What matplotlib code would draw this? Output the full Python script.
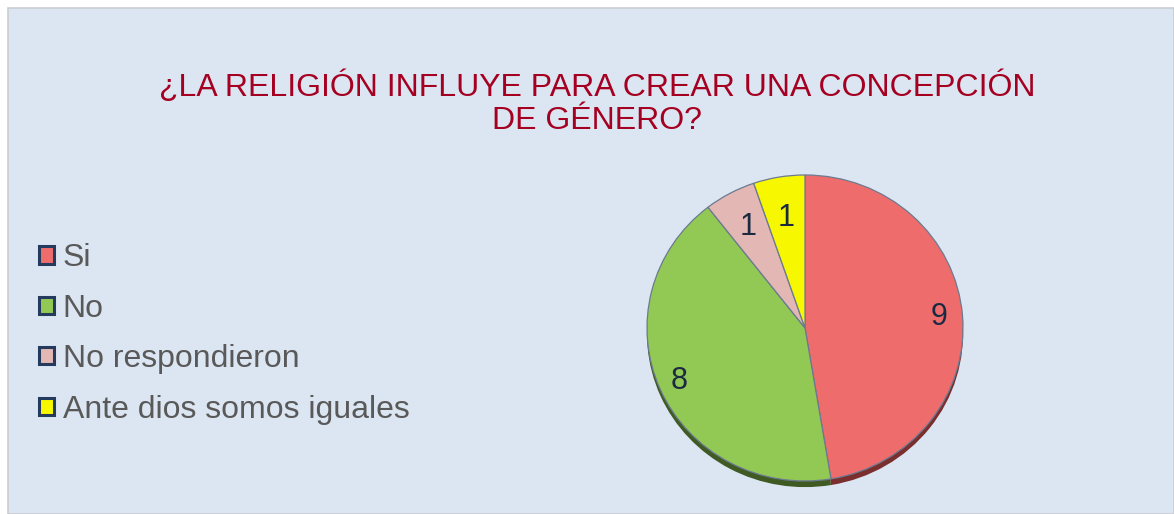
import matplotlib.pyplot as plt
import numpy as np
from matplotlib.patches import Patch, Rectangle

# data
categories = ['Si', 'No', 'No respondieron', 'Ante dios somos iguales']
values = [9, 8, 1, 1]
colors = ['#EE6C6C', '#92C955', '#E2B7B4', '#F7F700']
shadow_colors = ['#7A2E2E', '#3F5A22', '#7A5A58', '#7A7A00']
title = '¿LA RELIGIÓN INFLUYE PARA CREAR UNA CONCEPCIÓN\nDE GÉNERO?'

plt.rcParams['font.family'] = ['Liberation Sans', 'DejaVu Sans']

W, H = 1174, 514
fig = plt.figure(figsize=(W / 100, H / 100), dpi=100, facecolor='white')

# panel background
fig.patches.append(Rectangle((8 / W, 0), 1 - 8 / W, 1 - 8 / H, transform=fig.transFigure,
                             facecolor='#DCE6F2', edgecolor='#C9CDD2', linewidth=1.2, zorder=-1))

fig.text(597 / W, 1 - 103 / H, title, ha='center', va='center', color='#A50021',
         fontsize=23, linespacing=1.12)

# pie axes, centre (805, 328) px, radii ~158 x 153 px (slightly tilted look)
cx, cy, rx, ry = 805, 328, 158, 153
box = 170
ax = fig.add_axes([(cx - box) / W, (H - cy - box) / H, 2 * box / W, 2 * box / H])

# shadow
ax.pie(values, colors=shadow_colors, startangle=90, counterclock=False,
       center=(0, -0.04), radius=1.0, wedgeprops=dict(linewidth=0))
wedges, _ = ax.pie(values, colors=colors, startangle=90, counterclock=False,
                   radius=1.0, wedgeprops=dict(edgecolor='#6B7A90', linewidth=0.9))
ax.set_aspect('auto')
ax.set_xlim(-box / rx, box / rx)
ax.set_ylim(-box / ry, box / ry)
ax.axis('off')

dists = [0.85, 0.87, 0.75, 0.73]
for w, v, d in zip(wedges, values, dists):
    ang = np.deg2rad((w.theta1 + w.theta2) / 2)
    ax.text(d * np.cos(ang), d * np.sin(ang), str(v), ha='center', va='center',
            fontsize=22, color='#1B2A41')

handles = [Patch(facecolor=c, edgecolor='#243B5E', linewidth=2.2) for c in colors]
fig.legend(handles, categories, loc='upper left', bbox_to_anchor=(17 / W, 1 - 221 / H),
           frameon=False, fontsize=23, labelcolor='#595959', handlelength=0.45,
           handleheight=0.45, handletextpad=0.28, labelspacing=0.64, borderpad=0.2)

fig.savefig('out.png', dpi=100)
